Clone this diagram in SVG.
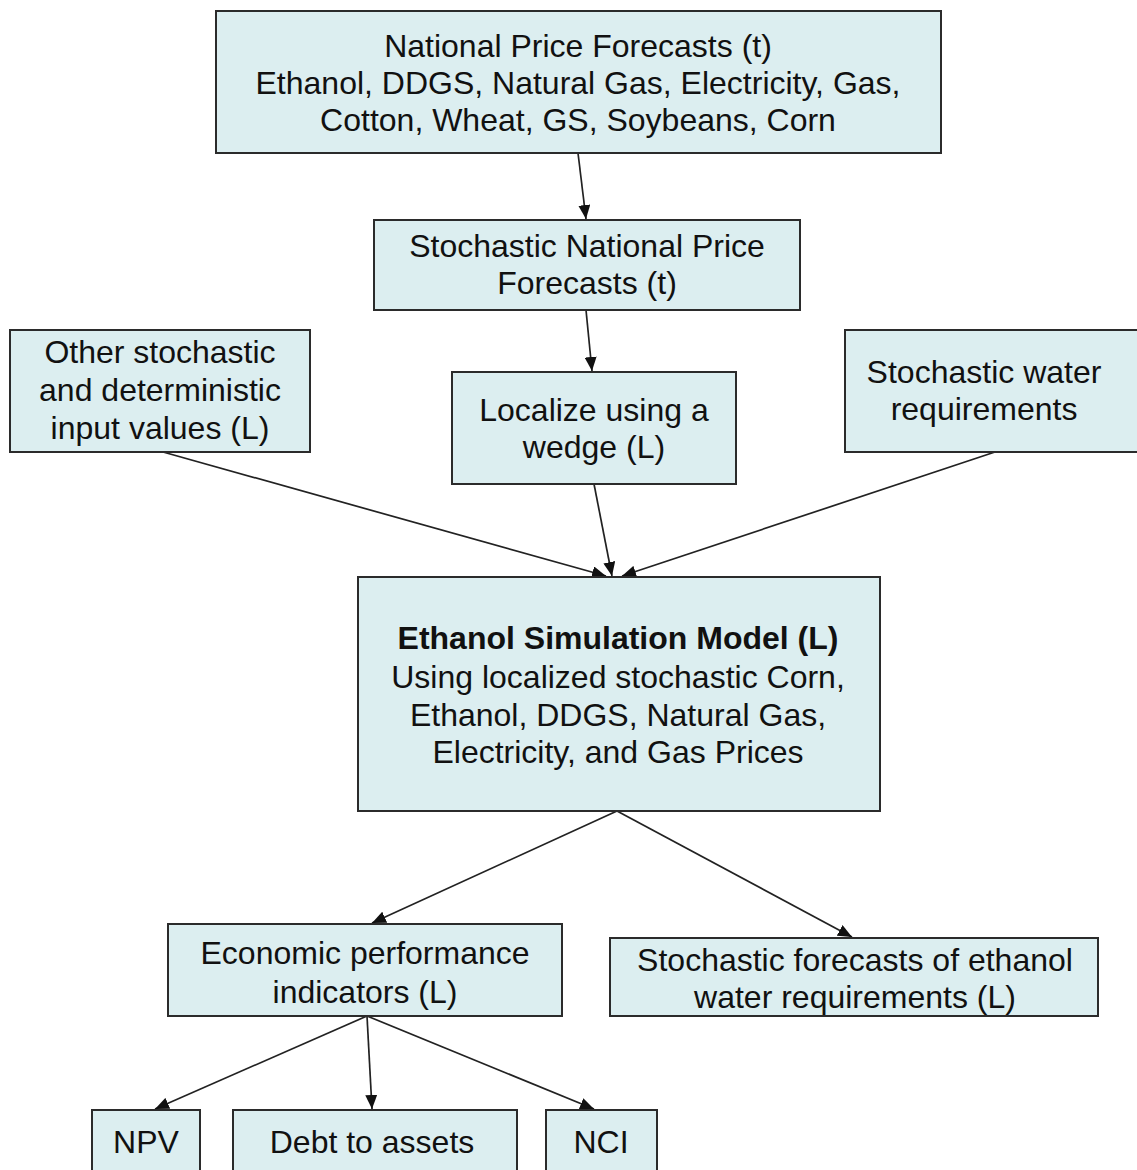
<svg xmlns="http://www.w3.org/2000/svg" width="1137" height="1170" viewBox="0 0 1137 1170">
<style>
.box{fill:#dceef0;stroke:#2b2b2b;stroke-width:2}
.t{font-family:"Liberation Sans",Arial,sans-serif;font-size:32px;fill:#111;text-anchor:middle}
.b{font-weight:bold}
.edge{stroke:#222;stroke-width:1.7;fill:none;marker-end:url(#ah)}
</style>
<defs>
<marker id="ah" markerWidth="15" markerHeight="12" refX="14" refY="6" orient="auto" markerUnits="userSpaceOnUse">
<path d="M0,0 L14,6 L0,12 Z" fill="#111"/>
</marker>
</defs>
<rect width="1137" height="1170" fill="#fff"/>
<g id="connectors">
<line class="edge" x1="578" y1="153" x2="586" y2="219"/>
<line class="edge" x1="586" y1="310" x2="592" y2="371"/>
<line class="edge" x1="163" y1="452" x2="606" y2="576"/>
<line class="edge" x1="594" y1="484" x2="612" y2="576"/>
<line class="edge" x1="995" y1="452" x2="622" y2="576"/>
<line class="edge" x1="617" y1="811" x2="372" y2="923"/>
<line class="edge" x1="617" y1="811" x2="852" y2="937"/>
<line class="edge" x1="367" y1="1016" x2="155" y2="1109"/>
<line class="edge" x1="367" y1="1016" x2="372" y2="1109"/>
<line class="edge" x1="367" y1="1016" x2="594" y2="1109"/>
</g>
<g id="n1"><rect class="box" x="216" y="11" width="725" height="142"/>
<text class="t" x="578" y="57">National Price Forecasts (t)</text>
<text class="t" x="578" y="94">Ethanol, DDGS, Natural Gas, Electricity, Gas,</text>
<text class="t" x="578" y="131">Cotton, Wheat, GS, Soybeans, Corn</text></g>
<g id="n2"><rect class="box" x="374" y="220" width="426" height="90"/>
<text class="t" x="587" y="257">Stochastic National Price</text>
<text class="t" x="587" y="294">Forecasts (t)</text></g>
<g id="n3"><rect class="box" x="10" y="330" width="300" height="122"/>
<text class="t" x="160" y="363">Other stochastic</text>
<text class="t" x="160" y="401">and deterministic</text>
<text class="t" x="160" y="439">input values (L)</text></g>
<g id="n4"><rect class="box" x="452" y="372" width="284" height="112"/>
<text class="t" x="594" y="421">Localize using a</text>
<text class="t" x="594" y="458">wedge (L)</text></g>
<g id="n5"><rect class="box" x="845" y="330" width="300" height="122"/>
<text class="t" x="984" y="383">Stochastic water</text>
<text class="t" x="984" y="420">requirements</text></g>
<g id="n6"><rect class="box" x="358" y="577" width="522" height="234"/>
<text class="t b" x="618" y="649">Ethanol Simulation Model (L)</text>
<text class="t" x="618" y="688">Using localized stochastic Corn,</text>
<text class="t" x="618" y="726">Ethanol, DDGS, Natural Gas,</text>
<text class="t" x="618" y="763">Electricity, and Gas Prices</text></g>
<g id="n7"><rect class="box" x="168" y="924" width="394" height="92"/>
<text class="t" x="365" y="964">Economic performance</text>
<text class="t" x="365" y="1003">indicators (L)</text></g>
<g id="n8"><rect class="box" x="610" y="938" width="488" height="78"/>
<text class="t" x="855" y="971">Stochastic forecasts of ethanol</text>
<text class="t" x="855" y="1008">water requirements (L)</text></g>
<g id="n9"><rect class="box" x="92" y="1110" width="108" height="70"/>
<text class="t" x="146" y="1153">NPV</text></g>
<g id="n10"><rect class="box" x="233" y="1110" width="284" height="70"/>
<text class="t" x="372" y="1153">Debt to assets</text></g>
<g id="n11"><rect class="box" x="546" y="1110" width="111" height="70"/>
<text class="t" x="601" y="1153">NCI</text></g>
</svg>
